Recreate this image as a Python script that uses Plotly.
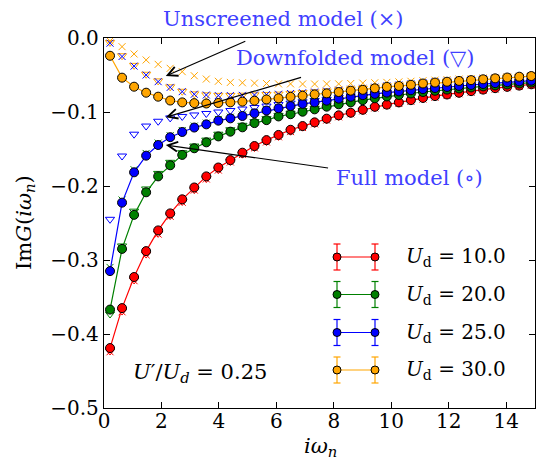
import plotly.graph_objects as go

# Matsubara frequencies (beta = 15)
omega_n = [0.2094, 0.6283, 1.0472, 1.4661, 1.8850, 2.3038, 2.7227, 3.1416, 3.5605, 3.9794,
           4.3982, 4.8171, 5.2360, 5.6549, 6.0737, 6.4926, 6.9115, 7.3304, 7.7493, 8.1681,
           8.5870, 9.0059, 9.4248, 9.8437, 10.2625, 10.6814, 11.1003, 11.5192, 11.9381, 12.3569,
           12.7758, 13.1947, 13.6136, 14.0324, 14.4513, 14.8702]

U_labels = ["10.0", "20.0", "25.0", "30.0"]
colors = ["#ff0000", "#008000", "#0000ff", "#ffa500"]

full_U10 = [-0.419, -0.365, -0.323, -0.288, -0.260, -0.237, -0.218, -0.202, -0.187, -0.175,
            -0.165, -0.155, -0.146, -0.138, -0.131, -0.124, -0.119, -0.114, -0.109, -0.1045,
            -0.101, -0.097, -0.093, -0.090, -0.087, -0.084, -0.081, -0.0785, -0.0763, -0.0740,
            -0.0718, -0.0697, -0.0678, -0.0660, -0.0643, -0.0626]
full_U20 = [-0.367, -0.285, -0.239, -0.2085, -0.187, -0.172, -0.158, -0.149, -0.141, -0.133,
            -0.1266, -0.1207, -0.115, -0.111, -0.106, -0.103, -0.0996, -0.0964, -0.0928, -0.0896,
            -0.087, -0.084, -0.0815, -0.079, -0.077, -0.075, -0.073, -0.0713, -0.0697, -0.0682,
            -0.0668, -0.0654, -0.0641, -0.0628, -0.0615, -0.0603]
full_U25 = [-0.315, -0.2225, -0.1815, -0.159, -0.1446, -0.134, -0.1270, -0.121, -0.1167, -0.1117,
            -0.1086, -0.1054, -0.1018, -0.098, -0.095, -0.092, -0.089, -0.087, -0.0847, -0.082,
            -0.0795, -0.0772, -0.0755, -0.0738, -0.0722, -0.0706, -0.0691, -0.0676, -0.0662, -0.0648,
            -0.0635, -0.0622, -0.0610, -0.0598, -0.0587, -0.0577]
full_U30 = [-0.024, -0.0536, -0.0658, -0.0739, -0.0793, -0.0845, -0.0870, -0.0880, -0.0885, -0.0878,
            -0.0870, -0.0860, -0.0847, -0.0830, -0.0815, -0.0795, -0.0780, -0.0762, -0.0748, -0.0730,
            -0.0712, -0.0700, -0.0680, -0.0660, -0.0648, -0.0632, -0.0615, -0.0602, -0.0591, -0.0580,
            -0.0569, -0.0558, -0.0545, -0.0534, -0.0523, -0.0514]

down_U10 = [-0.423, -0.369, -0.327, -0.292, -0.264, -0.240, -0.221, -0.205, -0.190, -0.178,
            -0.167, -0.157, -0.148, -0.140, -0.133, -0.126, -0.1205, -0.1155, -0.1105, -0.106,
            -0.102, -0.098, -0.094, -0.091, -0.088, -0.085, -0.082, -0.0795, -0.0772, -0.0749,
            -0.0727, -0.0705, -0.0686, -0.0668, -0.0651, -0.0634]
down_U20 = [-0.373, -0.281, -0.234, -0.204, -0.183, -0.168, -0.155, -0.146, -0.138, -0.130,
            -0.124, -0.118, -0.113, -0.109, -0.1045, -0.1015, -0.098, -0.095, -0.0915, -0.0885,
            -0.086, -0.083, -0.0805, -0.078, -0.076, -0.074, -0.0722, -0.0705, -0.0689, -0.0674,
            -0.066, -0.0646, -0.0634, -0.0621, -0.0609, -0.0597]
down_U25 = [-0.245, -0.1595, -0.130, -0.119, -0.1125, -0.108, -0.106, -0.104, -0.102, -0.100,
            -0.098, -0.096, -0.094, -0.092, -0.090, -0.088, -0.0862, -0.0845, -0.0828, -0.0805,
            -0.0782, -0.0762, -0.0746, -0.0730, -0.0715, -0.0700, -0.0686, -0.0672, -0.0658, -0.0645,
            -0.0632, -0.0619, -0.0607, -0.0596, -0.0585, -0.0575]
down_U30 = [-0.006, -0.024, -0.037, -0.049, -0.058, -0.066, -0.072, -0.0755, -0.0768, -0.0775,
            -0.0776, -0.0773, -0.0768, -0.0763, -0.0758, -0.0748, -0.0738, -0.0728, -0.0716, -0.0703,
            -0.069, -0.0678, -0.0662, -0.0646, -0.0634, -0.062, -0.0605, -0.0593, -0.0582, -0.0571,
            -0.0561, -0.055, -0.0538, -0.0528, -0.0518, -0.0509]

unscr_U10 = [-0.424, -0.370, -0.328, -0.293, -0.265, -0.241, -0.222, -0.2055, -0.1905, -0.1785,
             -0.1675, -0.1575, -0.1485, -0.1405, -0.1335, -0.1265, -0.121, -0.116, -0.111, -0.1065,
             -0.1025, -0.0985, -0.0945, -0.0915, -0.0885, -0.0855, -0.0825, -0.080, -0.0777, -0.0754,
             -0.0731, -0.0709, -0.069, -0.0672, -0.0655, -0.0638]
unscr_U20 = [-0.310, -0.219, -0.178, -0.156, -0.142, -0.132, -0.125, -0.119, -0.115, -0.110,
             -0.107, -0.104, -0.1005, -0.097, -0.094, -0.091, -0.088, -0.086, -0.0838, -0.0812,
             -0.0788, -0.0765, -0.0748, -0.0732, -0.0716, -0.0700, -0.0685, -0.0671, -0.0657, -0.0643,
             -0.0630, -0.0618, -0.0606, -0.0594, -0.0583, -0.0573]
unscr_U25 = [-0.007, -0.025, -0.038, -0.050, -0.059, -0.0667, -0.0725, -0.076, -0.077, -0.0778,
             -0.0778, -0.0775, -0.077, -0.0765, -0.076, -0.075, -0.074, -0.073, -0.0718, -0.0705,
             -0.0692, -0.068, -0.0664, -0.0648, -0.0636, -0.0622, -0.0607, -0.0595, -0.0584, -0.0573,
             -0.0563, -0.0552, -0.0540, -0.0530, -0.0520, -0.0511]
unscr_U30 = [-0.004, -0.0117, -0.0216, -0.0297, -0.0356, -0.041, -0.0455, -0.051, -0.0555, -0.0585,
             -0.060, -0.0605, -0.061, -0.0615, -0.062, -0.062, -0.0622, -0.0622, -0.062, -0.062,
             -0.0615, -0.061, -0.0605, -0.060, -0.0593, -0.0585, -0.0578, -0.057, -0.0563, -0.0555,
             -0.0548, -0.054, -0.0533, -0.0525, -0.0518, -0.051]

full_series = [full_U10, full_U20, full_U25, full_U30]
down_series = [down_U10, down_U20, down_U25, down_U30]
unscr_series = [unscr_U10, unscr_U20, unscr_U25, unscr_U30]

x_ticks = [0, 2, 4, 6, 8, 10, 12, 14]
y_ticks = [-0.5, -0.4, -0.3, -0.2, -0.1, 0.0]

# layout geometry (pixels)
W, H = 537, 464
ML, MR, MT, MB = 104, 2, 38, 56
PW, PH = W - ML - MR, H - MT - MB

FONT = "DejaVu Serif"
FS = 20
FS_ANN = 21
ANN_BLUE = "#4040ff"

fig = go.Figure()

for c, ys in zip(colors, down_series):
    fig.add_trace(go.Scatter(x=omega_n, y=ys, mode="markers", showlegend=False,
                             marker=dict(symbol="triangle-down-open", size=8,
                                         color=c, line=dict(width=1, color=c))))
for c, ys in zip(colors, unscr_series):
    fig.add_trace(go.Scatter(x=omega_n, y=ys, mode="markers", showlegend=False,
                             marker=dict(symbol="x-thin-open", size=7,
                                         color=c, line=dict(width=1, color=c))))
for c, ys, lab in zip(colors, full_series, U_labels):
    fig.add_trace(go.Scatter(x=omega_n, y=ys, mode="lines+markers", showlegend=False,
                             name="U_d = " + lab,
                             line=dict(color=c, width=1.2),
                             marker=dict(symbol="circle", size=9, color=c,
                                         line=dict(width=1, color="black"))))


def px2paper(X, Y):
    return (X - ML) / PW, (H - MB - Y) / PH


shapes = []
annotations = []

# custom legend (matplotlib-style errorbar glyph)
leg_rows = [257, 294.5, 332.5, 370]
for c, lab, ry in zip(colors, U_labels, leg_rows):
    x1, yy = px2paper(337, ry)
    x2, _ = px2paper(375, ry)
    shapes.append(dict(type="line", xref="paper", yref="paper", x0=x1, x1=x2, y0=yy, y1=yy,
                       line=dict(color=c, width=1.2), layer="above"))
    for xm in (x1, x2):
        shapes.append(dict(type="line", xref="paper", yref="paper", xsizemode="pixel",
                           ysizemode="pixel", xanchor=xm, yanchor=yy, x0=0, x1=0, y0=-13, y1=13,
                           line=dict(color=c, width=1.2), layer="above"))
        for cy in (-13, 13):
            shapes.append(dict(type="line", xref="paper", yref="paper", xsizemode="pixel",
                               ysizemode="pixel", xanchor=xm, yanchor=yy, x0=-3.5, x1=3.5,
                               y0=cy, y1=cy, line=dict(color=c, width=1.2), layer="above"))
        shapes.append(dict(type="circle", xref="paper", yref="paper", xsizemode="pixel",
                           ysizemode="pixel", xanchor=xm, yanchor=yy, x0=-4, x1=4,
                           y0=-4, y1=4, fillcolor=c, line=dict(color="black", width=1),
                           layer="above"))
    tx, _ = px2paper(404, ry)
    annotations.append(dict(xref="paper", yref="paper", x=tx, y=yy, xanchor="left",
                            yanchor="middle", showarrow=False,
                            text="<i>U</i><sub>d</sub> = " + lab,
                            font=dict(family=FONT, size=FS, color="black")))

# model annotations
def text_ann(X, Y, txt, anchor="left"):
    px, py = px2paper(X, Y)
    annotations.append(dict(xref="paper", yref="paper", x=px, y=py, xanchor=anchor,
                            yanchor="middle", showarrow=False, text=txt,
                            font=dict(family=FONT, size=FS_ANN, color=ANN_BLUE)))

text_ann(161, 19, "Unscreened model (×)")
text_ann(234, 58, "Downfolded model (▽)")
text_ann(334, 178, "Full model (∘)")

arrows = [((4.97, -0.0036), (2.15, -0.0514)),
          ((6.91, -0.0527), (2.15, -0.107)),
          ((7.85, -0.176), (2.15, -0.1446))]
for (tx, ty), (hx, hy) in arrows:
    annotations.append(dict(xref="x", yref="y", axref="x", ayref="y", x=hx, y=hy, ax=tx, ay=ty,
                            text="", showarrow=True, arrowhead=5, arrowsize=1.6,
                            arrowwidth=1.2, arrowcolor="black", standoff=0, startstandoff=0))

# U'/U_d annotation
px, py = px2paper(131, 373)
annotations.append(dict(xref="paper", yref="paper", x=px, y=py, xanchor="left", yanchor="middle",
                        showarrow=False,
                        text="<i>U</i>′/<i>U</i><sub><i>d</i></sub> = 0.25",
                        font=dict(family=FONT, size=FS_ANN, color="black")))

# axis titles
px, py = px2paper(25, 223)
annotations.append(dict(xref="paper", yref="paper", x=px, y=py, xanchor="center",
                        yanchor="middle", showarrow=False, textangle=-90,
                        text="Im<i>G</i>(<i>iω</i><sub><i>n</i></sub>)",
                        font=dict(family=FONT, size=FS_ANN, color="black")))
px, py = px2paper(320, 447)
annotations.append(dict(xref="paper", yref="paper", x=px, y=py, xanchor="center",
                        yanchor="middle", showarrow=False,
                        text="<i>iω</i><sub><i>n</i></sub>",
                        font=dict(family=FONT, size=FS_ANN, color="black")))

axis_common = dict(showgrid=False, zeroline=False, showline=True, linecolor="black",
                   linewidth=1.3, mirror="ticks", ticks="inside", ticklen=6, tickwidth=1,
                   tickcolor="black", tickfont=dict(family=FONT, size=FS, color="black"))

fig.update_layout(
    width=W, height=H,
    margin=dict(l=ML, r=MR, t=MT, b=MB),
    paper_bgcolor="white", plot_bgcolor="white",
    showlegend=False,
    font=dict(family=FONT),
    xaxis=dict(range=[0, 15], tickvals=x_ticks, ticktext=[str(v) for v in x_ticks],
               ticklabelstandoff=-5, **axis_common),
    yaxis=dict(range=[-0.5, 0.0], tickvals=y_ticks, tickformat=".1f", **axis_common),
    shapes=shapes,
    annotations=annotations,
)

fig.write_html("out.html", config={"displayModeBar": False},
               post_script="document.body.style.margin='0px';document.body.style.padding='0px';"
                           "document.body.style.overflow='hidden';")
